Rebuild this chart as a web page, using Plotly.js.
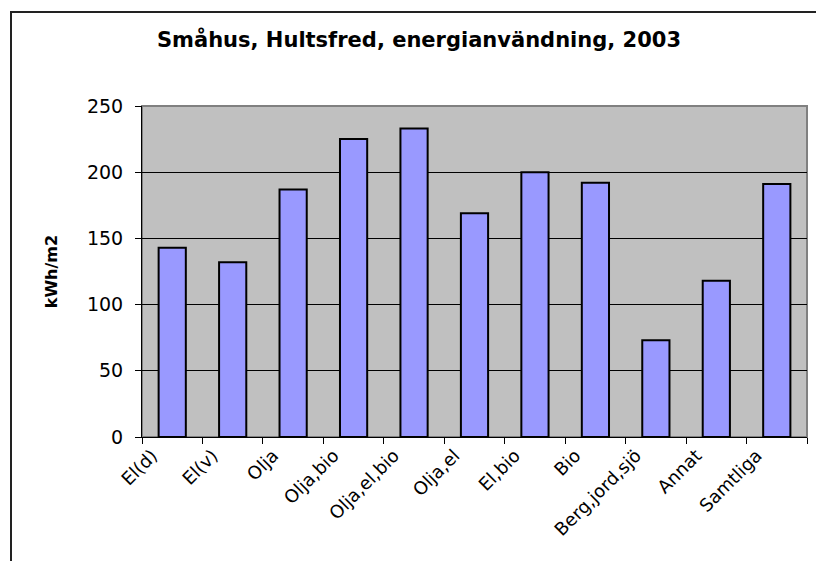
<!DOCTYPE html>
<html>
<head>
<meta charset="utf-8">
<script src="https://cdn.plot.ly/plotly-3.0.1.min.js"></script>
<style>
  body { margin: 0; background: #fff; }
  #frame { position: absolute; left: 10px; top: 11px; width: 820px; height: 560px;
           border-left: 2px solid #222; border-top: 2px solid #222; }
  #myDiv { position: absolute; left: 0; top: 0; width: 816px; height: 561px; }
</style>
</head>
<body>
<div id="frame"></div>
<div id="myDiv"></div>
<script>
// Småhus, Hultsfred - energy use per heating type, 2003
var categories = ["El(d)", "El(v)", "Olja", "Olja,bio", "Olja,el,bio", "Olja,el",
                  "El,bio", "Bio", "Berg,jord,sjö", "Annat", "Samtliga"];
var kwhPerM2 = [143, 132, 187, 225, 233, 169, 200, 192, 73, 118, 191];
var yTicks = [0, 50, 100, 150, 200, 250];

var trace = {
  x: categories,
  y: kwhPerM2,
  type: 'bar',
  marker: { color: '#9999FF', line: { color: '#000', width: 2 } },
  hoverinfo: 'x+y'
};

var fontFam = 'DejaVu Sans, Arial, sans-serif';

var layout = {
  width: 816,
  height: 561,
  margin: { l: 142, r: 9, t: 106, b: 124 },
  paper_bgcolor: 'rgba(0,0,0,0)',
  plot_bgcolor: '#C0C0C0',
  font: { family: fontFam, color: '#000' },
  title: {
    text: 'Småhus, Hultsfred, energianvändning, 2003',
    font: { size: 21, weight: 'bold', family: fontFam },
    x: 0.5135, xref: 'container', xanchor: 'center',
    y: 0.93, yref: 'container', yanchor: 'middle'
  },
  bargap: 0.55,
  showlegend: false,
  xaxis: {
    type: 'category',
    tickson: 'boundaries',
    ticks: 'outside',
    ticklen: 6,
    tickcolor: '#000',
    tickangle: -45,
    ticklabelshift: -20,
    tickfont: { size: 18 },
    showgrid: false,
    showline: true,
    linecolor: '#000',
    linewidth: 1,
    zeroline: false,
    fixedrange: true
  },
  yaxis: {
    range: [0, 250],
    tickvals: yTicks,
    ticks: 'outside',
    ticklen: 6,
    tickcolor: '#000',
    tickfont: { size: 19 },
    ticklabelstandoff: 8,
    showgrid: true,
    gridcolor: '#000',
    gridwidth: 1,
    showline: true,
    linecolor: '#000',
    linewidth: 1,
    zeroline: false,
    fixedrange: true,
    title: { text: 'kWh/m2', font: { size: 16, weight: 'bold' }, standoff: 25 }
  },
  shapes: [
    { type: 'rect', xref: 'paper', yref: 'paper', x0: 0, x1: 1, y0: 0, y1: 1,
      line: { color: '#808080', width: 2 }, layer: 'below' }
  ]
};

Plotly.newPlot('myDiv', [trace], layout, { displayModeBar: false, staticPlot: true });
</script>
</body>
</html>
